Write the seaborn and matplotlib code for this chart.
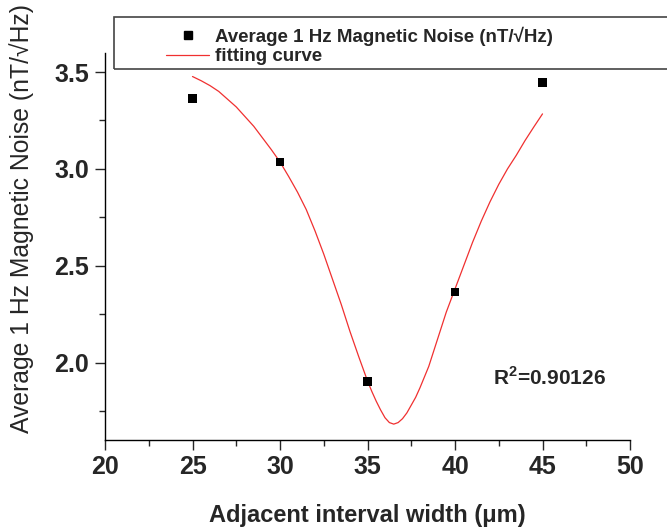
import numpy as np
import pandas as pd
import matplotlib
matplotlib.use('Agg')
import matplotlib.pyplot as plt
import seaborn as sns
from matplotlib.patches import Rectangle
from matplotlib.lines import Line2D
from matplotlib.ticker import MultipleLocator

# measured points
width_um = [25, 30, 35, 40, 45]
noise = [3.364, 3.036, 1.904, 2.364, 3.448]

# fitting curve
fit_x = [25, 25.5, 26, 26.5, 27, 27.5, 28, 28.5, 29, 29.5, 30, 30.5, 31, 31.5,
         32, 32.5, 33, 33.5, 34, 34.5, 35, 35.25, 35.5, 35.75, 36, 36.25, 36.5,
         36.75, 37, 37.25, 37.5, 37.75, 38, 38.5, 39, 39.5, 40, 40.5, 41, 41.5,
         42, 42.5, 43, 43.5, 44, 44.5, 45]
fit_y = [3.477, 3.455, 3.43, 3.40, 3.36, 3.32, 3.27, 3.22, 3.16, 3.10, 3.036,
         2.96, 2.88, 2.79, 2.68, 2.56, 2.43, 2.30, 2.16, 2.03, 1.905, 1.85, 1.80,
         1.755, 1.715, 1.69, 1.682, 1.69, 1.71, 1.74, 1.78, 1.82, 1.87, 1.98,
         2.12, 2.26, 2.38, 2.50, 2.62, 2.73, 2.83, 2.92, 3.00, 3.07, 3.146,
         3.216, 3.284]

xticks = [20, 25, 30, 35, 40, 45, 50]
yticks = [2.0, 2.5, 3.0, 3.5]

pts = pd.DataFrame({'x': width_um, 'y': noise})
fit = pd.DataFrame({'x': fit_x, 'y': fit_y})

sns.set_style('ticks')
plt.rcParams['font.family'] = ['Liberation Sans', 'DejaVu Sans']
plt.rcParams['mathtext.fontset'] = 'custom'
plt.rcParams['mathtext.rm'] = 'Liberation Sans'
plt.rcParams['mathtext.bf'] = 'Liberation Sans:bold'

W, H = 667, 529
fig = plt.figure(figsize=(W / 100, H / 100), dpi=100)
ax = fig.add_axes([105 / W, 1 - 440 / H, 525 / W, 387.3 / H])

sns.lineplot(data=fit, x='x', y='y', ax=ax, color='#f03030', linewidth=0.9,
             sort=False, legend=False)
sns.scatterplot(data=pts, x='x', y='y', ax=ax, marker='s', s=40, color='black',
                edgecolor='none', legend=False, zorder=3)

ax.set_xlim(20, 50)
ax.set_ylim(1.6, 3.6)
ax.set_xticks(xticks)
ax.set_yticks(yticks)
ax.xaxis.set_minor_locator(MultipleLocator(2.5))
ax.yaxis.set_minor_locator(MultipleLocator(0.25))
ax.tick_params(which='major', length=7.5, width=1, direction='out', labelsize=18, pad=3)
ax.tick_params(which='minor', length=4, width=1, direction='out')
ax.tick_params(axis='y', pad=4)
for lab in ax.get_xticklabels() + ax.get_yticklabels():
    lab.set_fontweight('bold')

for s in ['top', 'right']:
    ax.spines[s].set_visible(False)
for s in ['left', 'bottom']:
    ax.spines[s].set_linewidth(1)
    ax.spines[s].set_color('black')

ax.set_xlabel('Adjacent interval width (μm)', fontsize=17, fontweight='bold')
ax.xaxis.set_label_coords(0.5, -0.194)
ax.xaxis.label.set_va('center')
ax.set_ylabel('Average 1 Hz Magnetic Noise (nT/√Hz)', fontsize=17.8)
ax.yaxis.set_label_coords(-0.158, 0.573)
ax.yaxis.label.set_va('center')

ax.text(42.17, 1.883, r'R$^\mathbf{2}$=0.90126', fontsize=15, fontweight='bold',
        ha='left', va='baseline')

# legend box running off the right edge
fig.patches.append(Rectangle((114 / W, 1 - 69 / H), 600 / W, 51.5 / H,
                             transform=fig.transFigure, fill=False,
                             edgecolor='#444444', linewidth=1.2, zorder=5))
handles = [Line2D([], [], marker='s', linestyle='none', color='black', markersize=6),
           Line2D([], [], color='#f03030', linewidth=0.9)]
labels = ['Average 1 Hz Magnetic Noise (nT/√Hz)', 'fitting curve']
leg = fig.legend(handles, labels, loc='upper left', bbox_to_anchor=(155 / W, 1 - 15 / H),
                 frameon=False, prop={'size': 13.5, 'weight': 'bold'},
                 handlelength=2.3, handletextpad=0.3, labelspacing=0.15,
                 borderpad=0.1)

fig.savefig('out.png', dpi=100)
